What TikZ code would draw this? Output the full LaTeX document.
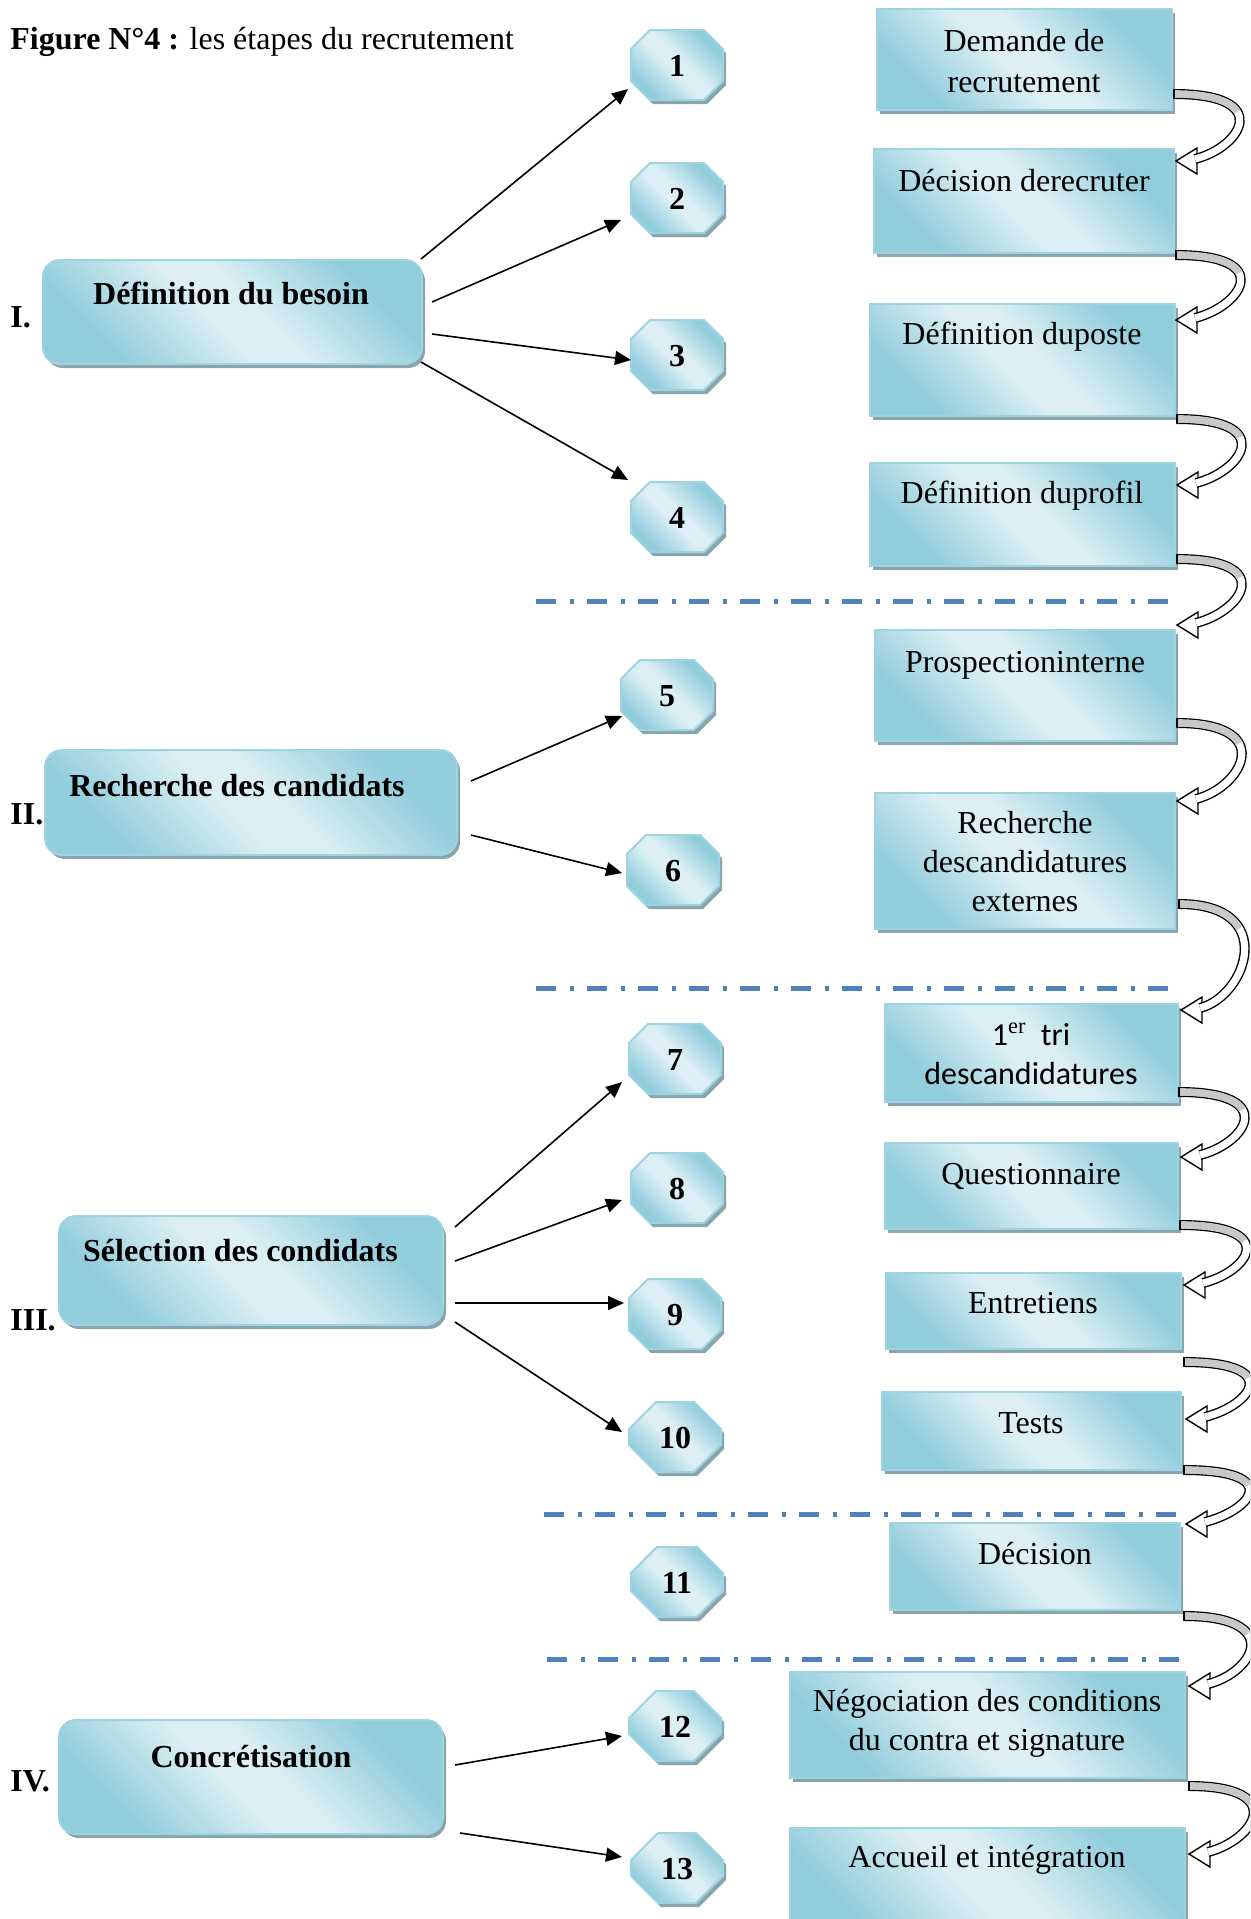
\documentclass[tikz,border=0pt]{standalone}
\usepackage{fontspec}
\setmainfont{Liberation Serif}
\newfontfamily\carlitofont{Carlito}
\usetikzlibrary{shapes.misc,shadows,calc,arrows.meta}

\definecolor{boxdark}{RGB}{146,205,220}
\definecolor{boxlight}{RGB}{220,239,244}
\definecolor{boxedge}{RGB}{158,211,225}
\definecolor{boxshadow}{RGB}{138,164,172}
\definecolor{sepblue}{RGB}{79,129,189}
\definecolor{bandgrey}{RGB}{200,200,200}

% diagonal light band between two darker corners
\pgfdeclarehorizontalshading{boxgrad}{100bp}{color(0bp)=(boxdark); color(27bp)=(boxdark); color(46bp)=(boxlight); color(54bp)=(boxlight); color(73bp)=(boxdark); color(100bp)=(boxdark)}

\newcommand\basefont{\fontsize{16}{19.5}\selectfont}

% curved hollow arrow from the foot of one step to the head of the next
\newcommand\bentarrow[2]{%
  \coordinate (bs) at (#1);
  \coordinate (bt) at (#2);
  \filldraw[bandhead] (bt) -- ($(bt)+(21,-13)$) -- ($(bt)+(21,13)$) -- cycle;
  \draw[band] (bs) .. controls ($(bs)+(100,0)$) and ($(bt)+(66,-14)$) .. ($(bt)+(19,-2)$);
  \draw[bandback] (bs) .. controls ($(bs)+(100,0)$) and ($(bt)+(66,-14)$) .. ($(bt)+(19,-2)$);
  \draw[bandcap] ($(bs)+(0,-5)$) -- ($(bs)+(0,5)$);
}

\begin{document}
\begin{tikzpicture}[x=0.5pt, y=-0.5pt, font=\basefont,
  shadebox/.style={shading=boxgrad, shading angle=45, draw=boxedge, line width=1pt,
    general shadow={fill=boxshadow, shadow xshift=1.5pt, shadow yshift=-2pt}},
  phase/.style={shadebox, rectangle, rounded corners=8.5pt, inner sep=0pt},
  stepbox/.style={shadebox, rectangle, inner sep=0pt},
  octo/.style={shadebox, chamfered rectangle, chamfered rectangle xsep=9.5pt,
    chamfered rectangle ysep=9.5pt, minimum width=46pt, minimum height=35pt,
    inner sep=0pt, text height=11pt, text depth=0pt, font=\basefont\bfseries},
  lbl/.style={inner sep=0pt, text height=12.5pt, text depth=2pt},
  blbl/.style={lbl, font=\basefont\bfseries},
  mlbl/.style={inner sep=0pt, align=center},
  num/.style={inner sep=0pt, anchor=west, text height=12.5pt, text depth=2pt, font=\basefont\bfseries},
  arr/.style={draw=black, line width=0.8pt, -{Triangle[length=8pt, width=7pt]}},
  sep/.style={draw=sepblue, line width=2.5pt, dash pattern=on 10pt off 6.75pt on 2pt off 6.75pt},
  band/.style={draw=black, line width=0.7pt, double=white, double distance=3.6pt},
  bandback/.style={draw=bandgrey, line width=3.6pt, dash pattern=on 34pt off 1000pt},
  bandhead/.style={fill=white, draw=black, line width=0.7pt, line join=miter},
  bandcap/.style={draw=black, line width=0.7pt}]
\useasboundingbox (0,0) rectangle (1250,1919);
\clip (0,0) rectangle (1250,1919);

% title
\node[anchor=base west, inner sep=0pt] (title) at (10,49) {\textbf{Figure N°4 :} les étapes du recrutement};

% separators between the phases
\draw[sep] (536,601) -- (1172,601);
\draw[sep] (536,988) -- (1172,988);
\draw[sep] (544,1514) -- (1179,1514);
\draw[sep] (547,1659) -- (1184,1659);

% phases
\node[phase, minimum width=189.5pt, minimum height=52pt] (b1) at (232.5,312) {};
\node[phase, minimum width=206pt, minimum height=52.5pt] (b2) at (251,802.5) {};
\node[phase, minimum width=192pt, minimum height=54.5pt] (b3) at (251,1270.5) {};
\node[phase, minimum width=192pt, minimum height=57pt] (b4) at (251,1777) {};
\node[blbl] (b1t) at (231,294) {Définition du besoin};
\node[blbl] (b2t) at (237,786) {Recherche des candidats};
\node[blbl] (b3t) at (240.5,1251) {Sélection des condidats};
\node[blbl] (b4t) at (251,1757) {Concrétisation};
\node[num] (n1) at (10,317) {I.};
\node[num] (n2) at (10,814) {II.};
\node[num] (n3) at (10,1320) {III.};
\node[num] (n4) at (10,1781) {IV.};

% numbered steps
\node[octo] (o1) at (677,65) {1};
\node[octo] (o2) at (677,198) {2};
\node[octo] (o3) at (677,355) {3};
\node[octo] (o4) at (677,517) {4};
\node[octo] (o5) at (667,695) {5};
\node[octo] (o6) at (673,870) {6};
\node[octo] (o7) at (675,1059) {7};
\node[octo] (o8) at (677,1188) {8};
\node[octo] (o9) at (675,1314) {9};
\node[octo] (o10) at (675,1437) {10};
\node[octo] (o11) at (677,1582) {11};
\node[octo] (o12) at (675,1726) {12};
\node[octo] (o13) at (677,1868) {13};

% step descriptions
\node[stepbox, minimum width=147.5pt, minimum height=50.5pt] (r1) at (1024.5,59.5) {};
\node[stepbox, minimum width=150pt, minimum height=52pt] (r2) at (1024,201) {};
\node[stepbox, minimum width=152.5pt, minimum height=56pt] (r3) at (1022.5,360) {};
\node[stepbox, minimum width=152.5pt, minimum height=51.5pt] (r4) at (1022.5,514.5) {};
\node[stepbox, minimum width=150pt, minimum height=55.5pt] (r5) at (1025,685.5) {};
\node[stepbox, minimum width=150pt, minimum height=68pt] (r6) at (1025,861) {};
\node[stepbox, minimum width=146.5pt, minimum height=49pt] (r7) at (1031.5,1053) {};
\node[stepbox, minimum width=146.5pt, minimum height=43pt] (r8) at (1031.5,1186) {};
\node[stepbox, minimum width=147.5pt, minimum height=38pt] (r9) at (1033.5,1311) {};
\node[stepbox, minimum width=149.5pt, minimum height=39pt] (r10) at (1031.5,1431) {};
\node[stepbox, minimum width=145pt, minimum height=43.5pt] (r11) at (1035,1566.5) {};
\node[stepbox, minimum width=197.5pt, minimum height=53pt] (r12) at (987.5,1725) {};
\node[stepbox, minimum width=197.5pt, minimum height=55pt] (r13) at (987.5,1883) {};

\node[mlbl, font=\fontsize{16}{20.8}\selectfont] (r1t) at (1024,61) {Demande de\\recrutement};
\node[lbl] (r2t) at (1024,181) {Décision derecruter};
\node[lbl] (r3t) at (1022,334) {Définition duposte};
\node[lbl] (r4t) at (1022,493) {Définition duprofil};
\node[lbl] (r5t) at (1025,662) {Prospectioninterne};
\node[mlbl] (r6t) at (1025,862) {Recherche\\descandidatures\\externes};
\node[mlbl, font=\fontsize{16}{19.5}\carlitofont] (r7t) at (1031,1054) {1\textsuperscript{\rmfamily er}\hspace{0.45em}tri\\descandidatures};
\node[lbl] (r8t) at (1031,1174) {Questionnaire};
\node[lbl] (r9t) at (1033,1303) {Entretiens};
\node[lbl] (r10t) at (1031,1423) {Tests};
\node[lbl] (r11t) at (1035,1554) {Décision};
\node[mlbl] (r12t) at (987,1723) {Négociation des conditions\\du contra et signature};
\node[lbl] (r13t) at (987,1857) {Accueil et intégration};

% arrows from the phases to their steps
\draw[arr] ($(b1.north east)+(-2,0)$) -- ($(o1)+(-49,24)$);
\draw[arr] ($(b1.east)+(9,-10)$) -- ($(o2)+(-56,22)$);
\draw[arr] ($(b1.east)+(9,22)$) -- ($(o3)+(-46,5)$);
\draw[arr] ($(b1.south east)+(-2,-3)$) -- ($(o4)+(-49,-37)$);
\draw[arr] ($(b2.east)+(13,-21.5)$) -- ($(o5)+(-45,21)$);
\draw[arr] ($(b2.east)+(13,32.5)$) -- ($(o6)+(-51,3)$);
\draw[arr] ($(b3.east)+(11,-43.5)$) -- ($(o7)+(-53,23)$);
\draw[arr] ($(b3.east)+(11,-9.5)$) -- ($(o8)+(-55,12)$);
\draw[arr] ($(b3.east)+(11,32.5)$) -- ($(o9)+(-51,-11)$);
\draw[arr] ($(b3.east)+(11,51.5)$) -- ($(o10)+(-53,-5)$);
\draw[arr] ($(b4.east)+(11,-12)$) -- ($(o12)+(-53,10)$);
\draw[arr] ($(b4.east)+(16,56)$) -- ($(o13)+(-55,-11)$);

% sequence of the steps
\bentarrow{$(r1.south east)+(1,-17)$}{$(r2.north east)+(1,13)$}
\bentarrow{$(r2.south east)+(1,1)$}{$(r3.north east)+(0,17)$}
\bentarrow{$(r3.south east)+(1,2)$}{$(r4.north east)+(1,23)$}
\bentarrow{$(r4.south east)+(1,-8)$}{$(r5.north east)+(1,-4)$}
\bentarrow{$(r5.south east)+(1,-19)$}{$(r6.north east)+(1,9)$}
\bentarrow{$(r6.south east)+(3,-26)$}{$(r7.north east)+(2,7)$}
\bentarrow{$(r7.south east)+(0,-11)$}{$(r8.north east)+(2,15)$}
\bentarrow{$(r8.south east)+(1,-5)$}{$(r9.north east)+(2,13)$}
\bentarrow{$(r9.south east)+(2,12)$}{$(r10.north east)+(4,28)$}
\bentarrow{$(r10.south east)+(2,-1)$}{$(r11.north east)+(5,2)$}
\bentarrow{$(r11.south east)+(3,5)$}{$(r12.north east)+(3,15)$}
\bentarrow{$(r12.south east)+(3,7)$}{$(r13.north east)+(3,27)$}
\end{tikzpicture}
\end{document}
